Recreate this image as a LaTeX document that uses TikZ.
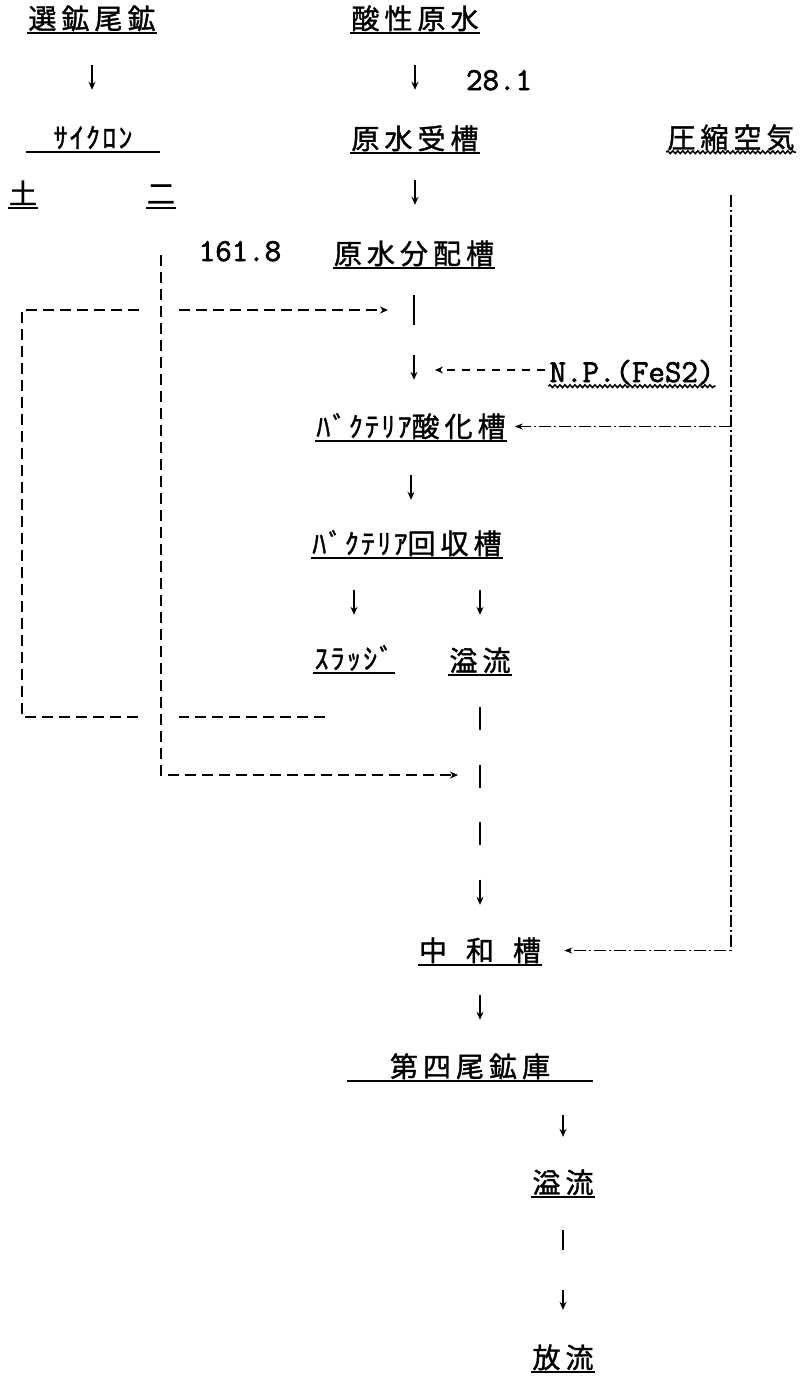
\documentclass[tikz,border=0pt]{standalone}
\usepackage{fontspec}
\newfontfamily\jp[LetterSpace=18,FakeBold=1.3]{Noto Sans CJK JP}
\newfontfamily\jph[LetterSpace=8,FakeBold=1.3]{Noto Sans CJK JP}
\newfontfamily\mono[FakeBold=2]{Latin Modern Mono}
\usetikzlibrary{arrows.meta,positioning,calc,decorations.pathmorphing}

\begin{document}
\begin{tikzpicture}[x=1pt, y=-1pt,
  tag/.style={anchor=base, inner sep=1pt, text height=24pt, text depth=3pt, font=\jp\fontsize{28}{30}\selectfont},
  half/.style={font=\jph\fontsize{28}{30}\selectfont},
  num/.style={anchor=base, inner sep=1pt, text height=21pt, text depth=3pt, font=\mono\fontsize{32}{34}\selectfont},
  ul/.style={append after command={(\tikzlastnode.south west) edge[line width=2pt] (\tikzlastnode.south east)}},
  wavy/.style={append after command={(\tikzlastnode.south west) edge[line width=1.5pt, decorate, decoration={snake, amplitude=1.4pt, segment length=5pt}] (\tikzlastnode.south east)}},
  down/.style={line width=2.3pt, -{Stealth[length=8pt,width=7pt]}},
  flow/.style={line width=2.2pt, dash pattern=on 11pt off 6pt, -{Stealth[length=8pt,width=7pt]}},
  airline/.style={line width=1.8pt, dash pattern=on 12pt off 3pt on 2pt off 3pt, -{Stealth[length=8pt,width=6pt]}}]
\useasboundingbox (0,0) rectangle (801,1376);

\node[tag, ul] (senko) at (92,29) {選鉱尾鉱};
\node[tag, ul] (sansei) at (415,29) {酸性原水};
\node[num] (q1) at (499,90) {28.1};
\node[tag, half, ul, minimum width=133pt] (cyc) at (93,148) {ｻｲｸﾛﾝ};
\node[tag, ul] (jukei) at (415,149) {原水受槽};
\node[tag, wavy] (air) at (731,148) {圧縮空気};
\node[tag, ul] (cycA) at (23,204) {土};
\node[tag, ul] (cycB) at (161,204) {二};
\node[num] (q2) at (240,261) {161.8};
\node[tag, ul] (bunpai) at (414,264) {原水分配槽};
\node[num, wavy] (np) at (632,382) {N.P.(FeS2)};
\node[tag, ul] (sanka) at (411,437) {{\jph ﾊﾞｸﾃﾘｱ}酸化槽};
\node[tag, ul] (kaishu) at (407,554) {{\jph ﾊﾞｸﾃﾘｱ}回収槽};
\node[tag, half, ul] (sludge) at (354,669) {ｽﾗｯｼﾞ};
\node[tag, ul] (ovf) at (480,671) {溢流};
\node[tag, ul] (chuwa) at (480,961) {中\hspace{19pt}和\hspace{19pt}槽};
\node[tag, ul, minimum width=245pt] (daiyon) at (470,1077) {第四尾鉱庫};
\node[tag, ul] (ovf2) at (563,1193) {溢流};
\node[tag, ul] (horyu) at (563,1368) {放流};

\coordinate (mix1) at (412,310);
\coordinate (np1) at (412,370);
\coordinate (mix2) at (479,775);
\coordinate (slout) at (325,717);
\coordinate (ret) at (22,310);

\draw[down, shorten <=32pt, shorten >=33pt] (senko.south) -- (senko.south |- cyc.north);
\draw[down, shorten <=32pt, shorten >=34pt] (sansei.south) -- (sansei.south |- jukei.north);
\draw[down, shorten <=27pt, shorten >=34pt] (jukei.south) -- (jukei.south |- bunpai.north);
\draw[down, dash pattern=on 30pt off 30pt on 30pt off 200pt, shorten <=27pt, shorten >=32pt] (bunpai.south) -- (bunpai.south |- sanka.north);
\draw[down, shorten <=34pt, shorten >=29pt] (sanka.south) -- (sanka.south |- kaishu.north);
\draw[down, shorten <=32pt, shorten >=29pt] (kaishu.south -| sludge.south) -- (sludge.north);
\draw[down, shorten <=32pt, shorten >=31pt] (kaishu.south -| ovf.south) -- (ovf.north);
\draw[down, dash pattern=on 23pt off 34.5pt, shorten <=32pt, shorten >=31pt] (ovf.south) -- (chuwa.north);
\draw[down, shorten <=30pt, shorten >=32pt] (chuwa.south) -- (chuwa.south |- daiyon.north);
\draw[down, shorten <=34pt, shorten >=31pt] (daiyon.south -| ovf2.south) -- (ovf2.north);
\draw[down, dash pattern=on 20pt off 40pt on 20pt off 200pt, shorten <=33pt, shorten >=33pt] (ovf2.south) -- (horyu.north);

\draw[flow, shorten >=24pt] (slout) -| (ret) -- (mix1);
\draw[flow, shorten <=47pt, shorten >=21pt, preaction={draw=white, line width=36pt, solid, -}] (cycB.south) |- (mix2);
\draw[down, line width=2pt, dash pattern=on 8pt off 7pt, shorten <=3pt, shorten >=23pt] (np.west |- np1) -- (np1);

\draw[airline, shorten <=43pt, shorten >=22pt] (air.south) |- (chuwa.east);
\draw[airline, shorten >=8pt] (air.south |- sanka.east) -- (sanka.east);
\end{tikzpicture}
\end{document}
